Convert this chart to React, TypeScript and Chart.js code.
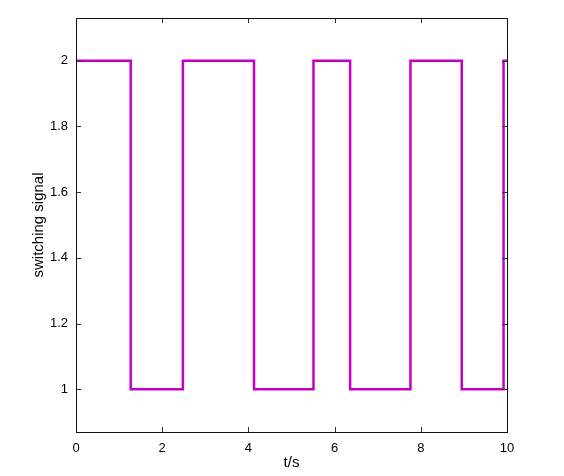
import React, { useEffect, useRef } from "react";
import { Chart, registerables } from "chart.js";

Chart.register(...registerables);

const switchTimes = [0, 1.27, 2.48, 4.13, 5.51, 6.36, 7.76, 8.95, 9.92, 10];
const signalValues = [2, 1, 2, 1, 2, 1, 2, 1, 2, 2];
const xTicks = [0, 2, 4, 6, 8, 10];
const yTicks = [1, 1.2, 1.4, 1.6, 1.8, 2];

const FONT = "'Liberation Sans', Arial, sans-serif";

const frame = {
  id: "frame",
  afterDatasetsDraw(chart: any) {
    const { ctx, chartArea: a, scales } = chart;
    ctx.save();
    ctx.strokeStyle = "#333";
    ctx.lineWidth = 1;
    ctx.beginPath();
    const t = 5;
    for (const v of xTicks) {
      const px = Math.round(scales.x.getPixelForValue(v)) + 0.5;
      ctx.moveTo(px, a.bottom);
      ctx.lineTo(px, a.bottom - t);
      ctx.moveTo(px, a.top);
      ctx.lineTo(px, a.top + t);
    }
    for (const v of yTicks) {
      const py = Math.round(scales.y.getPixelForValue(v)) + 0.5;
      ctx.moveTo(a.left, py);
      ctx.lineTo(a.left + t, py);
      ctx.moveTo(a.right, py);
      ctx.lineTo(a.right - t, py);
    }
    ctx.stroke();
    ctx.strokeStyle = "#111";
    ctx.strokeRect(Math.round(a.left) + 0.5, Math.round(a.top) + 0.5, Math.round(a.right - a.left), Math.round(a.bottom - a.top));
    ctx.restore();
  },
};

export default function App() {
  const ref = useRef<HTMLCanvasElement>(null);
  useEffect(() => {
    document.body.style.margin = "0";
    const chart = new Chart(ref.current!, {
      type: "line",
      data: {
        datasets: [
          {
            data: switchTimes.map((t, i) => ({ x: t, y: signalValues[i] })),
            stepped: "before",
            borderColor: "#c400c8",
            borderWidth: 2.5,
            pointRadius: 0,
            fill: false,
          },
        ],
      },
      options: {
        animation: false,
        responsive: false,
        maintainAspectRatio: false,
        layout: { padding: { left: 0, top: 18, right: 57, bottom: 0 } },
        plugins: { legend: { display: false }, tooltip: { enabled: false } },
        scales: {
          x: {
            type: "linear",
            min: 0,
            max: 10,
            afterBuildTicks: (s: any) => {
              s.ticks = xTicks.map((v) => ({ value: v }));
            },
            afterFit: (s: any) => {
              s.height = 44;
            },
            grid: { display: false, drawTicks: false },
            border: { display: false },
            ticks: {
              color: "#000",
              padding: 9,
              font: { family: FONT, size: 13 },
              maxRotation: 0,
            },
            title: {
              display: true,
              text: "t/s",
              color: "#000",
              font: { family: FONT, size: 15 },
              padding: { top: 0, bottom: 4 },
            },
          },
          y: {
            type: "linear",
            min: 0.87,
            max: 2.13,
            afterBuildTicks: (s: any) => {
              s.ticks = yTicks.map((v) => ({ value: v }));
            },
            afterFit: (s: any) => {
              s.width = 76;
            },
            grid: { display: false, drawTicks: false },
            border: { display: false },
            ticks: {
              color: "#000",
              padding: 8,
              font: { family: FONT, size: 13 },
              callback: (v: any) => String(Math.round(Number(v) * 10) / 10),
            },
            title: {
              display: true,
              text: "switching signal",
              color: "#000",
              font: { family: FONT, size: 15 },
              padding: { top: 30, bottom: 0 },
            },
          },
        },
      },
      plugins: [frame],
    });
    return () => chart.destroy();
  }, []);
  return (
    <div style={{ position: "absolute", left: 0, top: 0, width: 564, height: 476 }}>
      <canvas ref={ref} width={564} height={476} style={{ width: 564, height: 476 }} />
    </div>
  );
}
